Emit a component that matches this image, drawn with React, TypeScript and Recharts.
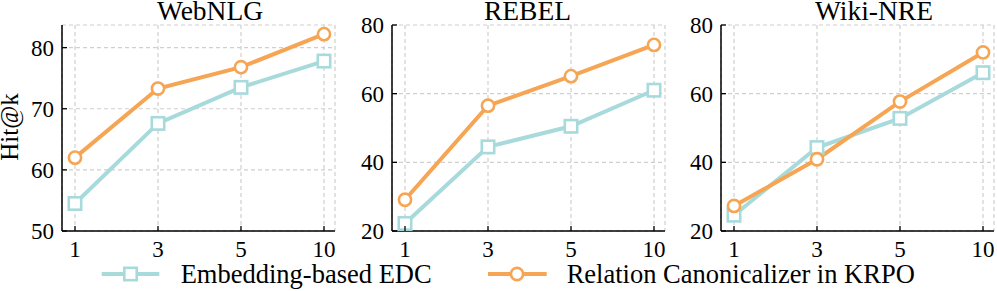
import React from "react";
import { LineChart, Line, XAxis, YAxis, CartesianGrid } from "recharts";

const ks = ["1", "3", "5", "10"];

const webnlgEdc = [54.5, 67.6, 73.5, 77.8];
const webnlgKrpo = [62.0, 73.3, 76.8, 82.2];
const rebelEdc = [22.2, 44.5, 50.5, 61.0];
const rebelKrpo = [29.1, 56.5, 65.1, 74.2];
const wikiEdc = [24.6, 44.3, 52.8, 66.1];
const wikiKrpo = [27.3, 40.9, 57.7, 72.0];

const webnlgTicks = [50, 60, 70, 80];
const otherTicks = [20, 40, 60, 80];

const TEAL = "#A8DADC";
const ORANGE = "#F5A553";
const FONT = "'Liberation Serif', 'Times New Roman', serif";
const TICK_MARGIN = 9;
const SQ = 12.4;

function XTick(props: any) {
  const { x, y, payload } = props;
  const axisY = y - TICK_MARGIN;
  return (
    <g>
      <line x1={x} x2={x} y1={axisY} y2={axisY - 5} stroke="#000" strokeWidth={1.3} />
      <text x={x} y={y} dy="0.72em" textAnchor="middle" fontSize={23} fontFamily={FONT} fill="#000">
        {payload.value}
      </text>
    </g>
  );
}

function YTick(props: any) {
  const { x, y, payload } = props;
  const axisX = x + 8;
  return (
    <g>
      <line x1={axisX} x2={axisX + 5} y1={y} y2={y} stroke="#000" strokeWidth={1.3} />
      <text x={x} y={y} dy="0.35em" textAnchor="end" fontSize={23} fontFamily={FONT} fill="#000">
        {payload.value}
      </text>
    </g>
  );
}

function SquareDot(props: any) {
  const { cx, cy, index } = props;
  return (
    <rect key={"s" + index} x={cx - SQ / 2} y={cy - SQ / 2} width={SQ} height={SQ} fill="#fff" stroke={TEAL} strokeWidth={2.6} />
  );
}

function CircleDot(props: any) {
  const { cx, cy, index } = props;
  return <circle key={"c" + index} cx={cx} cy={cy} r={6.1} fill="#fff" stroke={ORANGE} strokeWidth={2.6} />;
}

function Panel({
  left,
  width,
  yWidth,
  right,
  edc,
  krpo,
  domain,
  ticks,
}: {
  left: number;
  width: number;
  yWidth: number;
  right: number;
  edc: number[];
  krpo: number[];
  domain: [number, number];
  ticks: number[];
}) {
  const data = ks.map((k, i) => ({ k, edc: edc[i], krpo: krpo[i] }));
  const axisLine = { stroke: "#000", strokeWidth: 1.5 };
  return (
    <div style={{ position: "absolute", left, top: 0 }}>
      <LineChart width={width} height={291} data={data} margin={{ top: 25, right, bottom: 31, left: 0 }}>
        <CartesianGrid stroke="#cfcfcf" strokeDasharray="4 3" strokeWidth={1.2} />
        <XAxis
          dataKey="k"
          height={29}
          padding={{ left: 13, right: 11 }}
          tickSize={0}
          tickMargin={TICK_MARGIN}
          tickLine={false}
          axisLine={axisLine}
          tick={<XTick />}
          interval={0}
        />
        <XAxis xAxisId="top" dataKey="k" orientation="top" height={0} tick={false} tickLine={false} axisLine={axisLine} padding={{ left: 13, right: 11 }} />
        <YAxis
          width={yWidth}
          domain={domain}
          ticks={ticks}
          type="number"
          allowDataOverflow
          tickSize={0}
          tickMargin={8}
          tickLine={false}
          axisLine={axisLine}
          tick={<YTick />}
          interval={0}
        />
        <YAxis yAxisId="r" orientation="right" width={0} domain={domain} type="number" tick={false} tickLine={false} axisLine={axisLine} />
        <Line dataKey="edc" stroke={TEAL} strokeWidth={4} dot={SquareDot} isAnimationActive={false} />
        <Line dataKey="krpo" stroke={ORANGE} strokeWidth={4} dot={CircleDot} isAnimationActive={false} />
      </LineChart>
    </div>
  );
}

export default function App() {
  return (
    <div style={{ position: "absolute", left: 0, top: 0, width: 997, height: 291, background: "#fff", fontFamily: FONT }}>
      <Panel left={0} width={340} yWidth={62} right={5} edc={webnlgEdc} krpo={webnlgKrpo} domain={[50, 83.7]} ticks={webnlgTicks} />
      <Panel left={340} width={330} yWidth={52} right={5} edc={rebelEdc} krpo={rebelKrpo} domain={[20, 80]} ticks={otherTicks} />
      <Panel left={670} width={327} yWidth={51} right={3} edc={wikiEdc} krpo={wikiKrpo} domain={[20, 80]} ticks={otherTicks} />
      <svg width={997} height={291} style={{ position: "absolute", left: 0, top: 0, pointerEvents: "none" }}>
        <g fontFamily={FONT} fill="#000">
          <text x={210} y={20} fontSize={27.5} textAnchor="middle">WebNLG</text>
          <text x={527.5} y={20} fontSize={27.5} textAnchor="middle">REBEL</text>
          <text x={874} y={20} fontSize={27.5} textAnchor="middle">Wiki-NRE</text>
          <text x={18} y={127} fontSize={25} textAnchor="middle" transform="rotate(-90 18 127)">Hit@k</text>
        </g>
        <line x1={101.7} x2={159.3} y1={274} y2={274} stroke={TEAL} strokeWidth={4} />
        <rect x={130.5 - SQ / 2} y={274 - SQ / 2} width={SQ} height={SQ} fill="#fff" stroke={TEAL} strokeWidth={2.6} />
        <text x={180.7} y={282.5} fontSize={26.5} fontFamily={FONT} fill="#000">Embedding-based EDC</text>
        <line x1={488} x2={546.7} y1={274} y2={274} stroke={ORANGE} strokeWidth={4} />
        <circle cx={517} cy={274} r={6.1} fill="#fff" stroke={ORANGE} strokeWidth={2.6} />
        <text x={566.7} y={282.5} fontSize={26.5} fontFamily={FONT} fill="#000">Relation Canonicalizer in KRPO</text>
      </svg>
    </div>
  );
}
